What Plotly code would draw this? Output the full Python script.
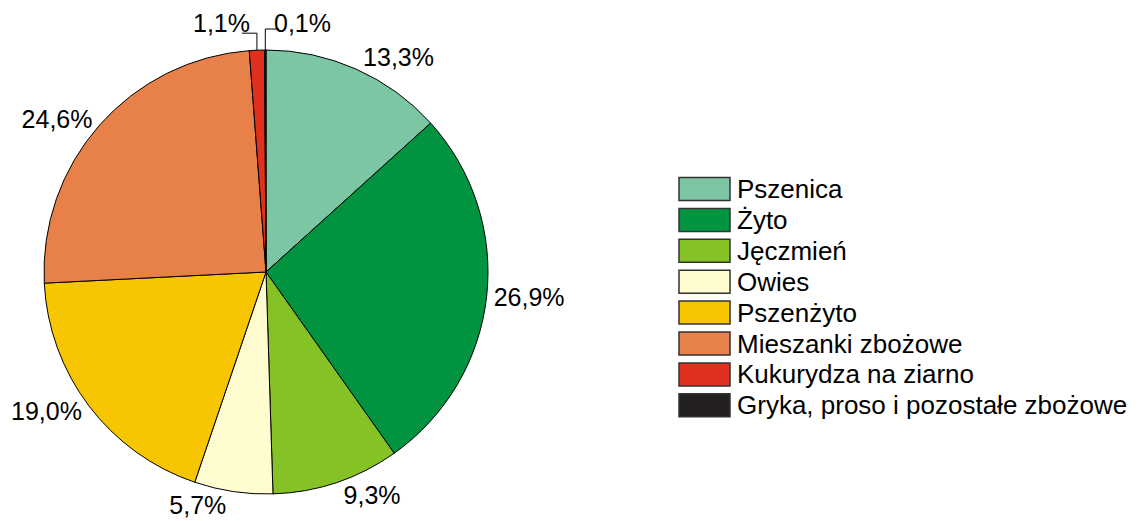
import math
import plotly.graph_objects as go

categories = ["Pszenica", "Żyto", "Jęczmień", "Owies", "Pszenżyto",
              "Mieszanki zbożowe", "Kukurydza na ziarno", "Gryka, proso i pozostałe zbożowe"]
values = [13.3, 26.9, 9.3, 5.7, 19.0, 24.6, 1.1, 0.1]
colors = ["#7DC6A4", "#009440", "#84C225", "#FFFDD0", "#F8C600", "#E8804A", "#E0301E", "#231F20"]

labels_text = [f"{v:.1f}".replace(".", ",") + "%" for v in values]

W, H = 1141, 521
# layout in figure pixels (page body adds an 8px offset)
cx, cy, r = 258, 264, 222
FONT = "Liberation Sans, Arial"
LABEL_SIZE = 25

def X(px):
    return px / W

def Y(py):
    return 1 - py / H

# tiny slices get their own labels with elbow leaders; others use the pie's outside text
small = [v < 2 for v in values]
textpos = ["none" if s else "outside" for s in small]

fig = go.Figure(go.Pie(
    labels=categories,
    values=values,
    text=labels_text,
    texttemplate="%{text}",
    textposition=textpos,
    sort=False,
    direction="clockwise",
    rotation=0,
    marker=dict(colors=colors, line=dict(color="#000000", width=1)),
    outsidetextfont=dict(family=FONT, size=LABEL_SIZE, color="#000"),
    domain=dict(x=[X(cx - r), X(cx + r)], y=[Y(cy + r), Y(cy - r)]),
    hoverinfo="label+percent",
    showlegend=False,
))

shapes, annots = [], []

# leader lines + labels for the tiny slices, anchored on the rim at each slice's mid-angle
total = sum(values)
cum = 0.0
small_idx = 0
leader_style = [  # (elbow rise, horizontal run, text side)
    (17, -15, "left"),
    (21, 14, "right"),
]
for i, v in enumerate(values):
    mid = (cum + v / 2) / total * 2 * math.pi
    cum += v
    if not small[i]:
        continue
    rx = cx + r * math.sin(mid)
    ry = cy - r * math.cos(mid)
    rise, run, side = leader_style[small_idx]
    small_idx += 1
    ey = ry - rise
    ex = rx + run
    shapes.append(dict(type="path", xref="paper", yref="paper",
                       path=f"M {X(rx)} {Y(ry)} L {X(rx)} {Y(ey)} L {X(ex)} {Y(ey)}",
                       line=dict(color="#000", width=1)))
    if side == "left":
        annots.append(dict(xref="paper", yref="paper", x=X(rx - 5), y=Y(ry - 27),
                           xanchor="right", yanchor="middle", showarrow=False,
                           text=labels_text[i], font=dict(family=FONT, size=LABEL_SIZE, color="#000")))
    else:
        annots.append(dict(xref="paper", yref="paper", x=X(rx + 7), y=Y(ry - 27),
                           xanchor="left", yanchor="middle", showarrow=False,
                           text=labels_text[i], font=dict(family=FONT, size=LABEL_SIZE, color="#000")))

# legend drawn as swatches + labels, one row per category
leg_x0, leg_y0, row_h, sw_w, sw_h = 671, 181, 30.9, 51, 23
for i, (name, col) in enumerate(zip(categories, colors)):
    yc = leg_y0 + i * row_h
    shapes.append(dict(type="rect", xref="paper", yref="paper",
                       x0=X(leg_x0), x1=X(leg_x0 + sw_w),
                       y0=Y(yc + sw_h / 2), y1=Y(yc - sw_h / 2),
                       fillcolor=col, line=dict(color="#333333", width=1.5)))
    annots.append(dict(xref="paper", yref="paper", x=X(leg_x0 + sw_w + 5), y=Y(yc),
                       xanchor="left", yanchor="middle", showarrow=False, text=name,
                       font=dict(family=FONT, size=26, color="#000")))

fig.update_layout(
    width=W, height=H,
    margin=dict(l=0, r=0, t=0, b=0, autoexpand=False),
    paper_bgcolor="white",
    plot_bgcolor="white",
    font=dict(family=FONT, size=20, color="#000"),
    showlegend=False,
    shapes=shapes,
    annotations=annots,
)

fig.write_html("out.html")
